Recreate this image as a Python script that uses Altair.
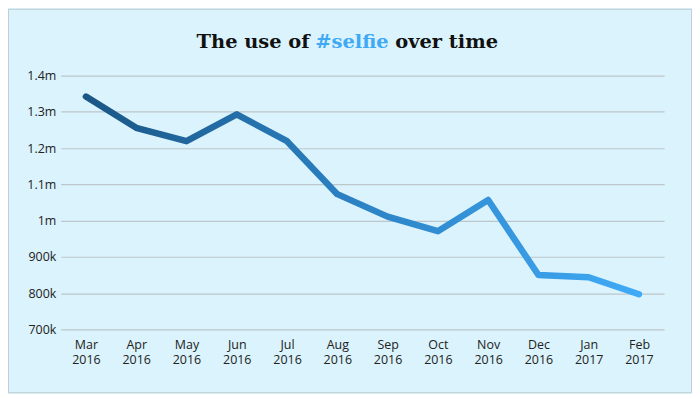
import altair as alt
import pandas as pd

# ---- data ----
months = ["Mar 2016", "Apr 2016", "May 2016", "Jun 2016", "Jul 2016", "Aug 2016",
          "Sep 2016", "Oct 2016", "Nov 2016", "Dec 2016", "Jan 2017", "Feb 2017"]
uses = [1342000, 1256000, 1219000, 1293000, 1219000, 1073000,
        1011000, 971000, 1057000, 850000, 844000, 797000]
y_ticks = [700000, 800000, 900000, 1000000, 1100000, 1200000, 1300000, 1400000]
title_parts = ["The use of", "#selfie", "over time"]

df = pd.DataFrame({"month": months, "uses": uses})

BG = "#daf3fc"
W, H = 606, 255

frame = alt.Chart(pd.DataFrame({"k": [0]})).mark_rect(
    fillOpacity=0, stroke="#c3cdd2", strokeWidth=1
).encode(
    x=alt.value(-52.5), x2=alt.value(W + 27.5),
    y=alt.value(-66.5), y2=alt.value(H + 63.5),
)

line = alt.Chart(df).mark_line(
    strokeWidth=6.5, strokeCap="round", strokeJoin="round",
    color=alt.Gradient(
        gradient="linear",
        stops=[alt.GradientStop(color="#1a5686", offset=0),
               alt.GradientStop(color="#2a7fc0", offset=0.45),
               alt.GradientStop(color="#40aaf6", offset=1)],
        x1=0, x2=1, y1=0, y2=0,
    ),
).encode(
    x=alt.X("month:N", sort=months, title=None,
            axis=alt.Axis(labelExpr="split(datum.label, ' ')", labelAngle=0,
                          labelLineHeight=15, labelPadding=9, domain=False,
                          ticks=False, grid=False, labelBaseline="top")),
    y=alt.Y("uses:Q", title=None,
            scale=alt.Scale(domain=[700000, 1400000], nice=False, zero=False),
            axis=alt.Axis(values=y_ticks, domain=False, ticks=False, grid=True,
                          labelPadding=5,
                          labelExpr="datum.value >= 1000000 ? format(datum.value/1000000, '.1~f') + 'm' : format(datum.value/1000, 'd') + 'k'")),
)

tstyle = dict(font="DejaVu Serif", fontWeight="bold", fontSize=19.5, baseline="alphabetic")
t1 = alt.Chart(pd.DataFrame({"t": [title_parts[0]]})).mark_text(
    align="right", color="#111111", **tstyle
).encode(text="t:N", x=alt.value(250), y=alt.value(-28))
t2 = alt.Chart(pd.DataFrame({"t": [title_parts[1]]})).mark_text(
    align="center", color="#3fa9f5", **tstyle
).encode(text="t:N", x=alt.value(292.5), y=alt.value(-28))
t3 = alt.Chart(pd.DataFrame({"t": [title_parts[2]]})).mark_text(
    align="left", color="#111111", **tstyle
).encode(text="t:N", x=alt.value(336), y=alt.value(-28))

chart = alt.layer(frame, line, t1, t2, t3).properties(
    width=W, height=H,
    autosize=alt.AutoSizeParams(type="none"),
    padding={"left": 53, "top": 67, "right": 28, "bottom": 64},
    background=BG,
).configure_view(stroke=None).configure_axis(
    labelFont="Open Sans", labelFontSize=12.5, labelColor="#222222",
    gridColor="#bcc6ca", gridWidth=1.2,
)

chart.save("out.html", embed_options={"renderer": "svg", "actions": False})
